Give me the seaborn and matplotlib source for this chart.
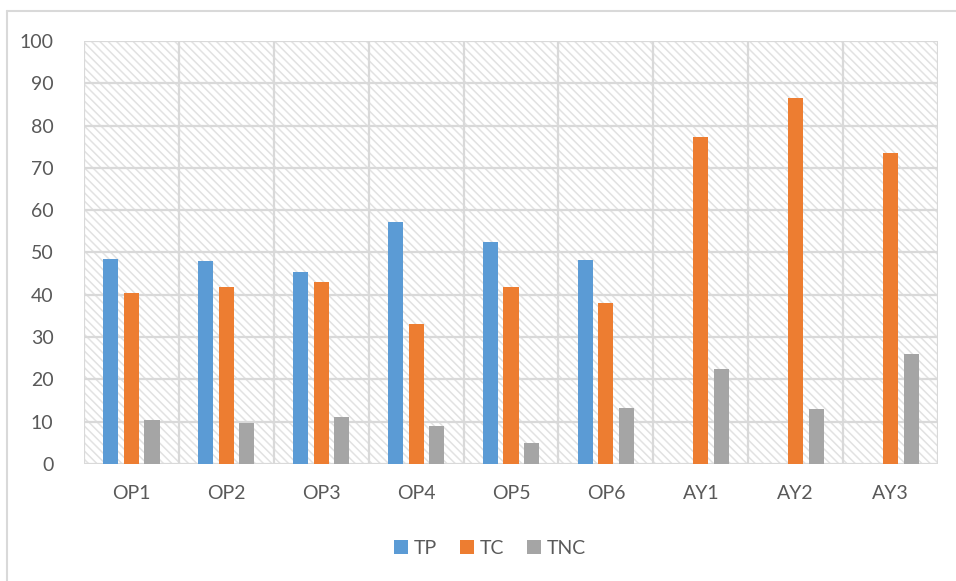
import numpy as np
import pandas as pd
import matplotlib
matplotlib.use("Agg")
import matplotlib.pyplot as plt
from matplotlib.patches import Rectangle
from matplotlib.lines import Line2D
import seaborn as sns

categories = ["OP1", "OP2", "OP3", "OP4", "OP5", "OP6", "AY1", "AY2", "AY3"]
tp = [48.5, 47.9, 45.3, 57.2, 52.5, 48.2, np.nan, np.nan, np.nan]
tc = [40.5, 41.8, 43.1, 33.1, 41.8, 38.0, 77.2, 86.6, 73.6]
tnc = [10.4, 9.8, 11.1, 9.1, 5.0, 13.3, 22.5, 13.1, 26.1]
series = ["TP", "TC", "TNC"]
colors = ["#5b9bd5", "#ed7d31", "#a5a5a5"]
yticks = list(range(0, 101, 10))

df = pd.DataFrame({"cat": categories, "TP": tp, "TC": tc, "TNC": tnc})
long = df.melt(id_vars="cat", value_vars=series, var_name="series", value_name="value")

sns.set_style("white")
plt.rcParams["font.family"] = ["Lato", "DejaVu Sans"]
plt.rcParams["hatch.linewidth"] = 1.1
plt.rcParams["hatch.color"] = "#e2e2e2"

fig = plt.figure(figsize=(9.56, 5.81), dpi=100)
ax = fig.add_axes([84 / 956, 1 - 464 / 581, (938 - 84) / 956, (464 - 41) / 581])

# diagonal pattern fill of the plot area
ax.add_patch(Rectangle((0, 0), 1, 1, transform=ax.transAxes, facecolor="white",
                       edgecolor="#e2e2e2", hatch="\\\\\\\\", linewidth=0, zorder=0))

sns.barplot(data=long, x="cat", y="value", hue="series", hue_order=series,
            palette=colors, width=0.65, gap=0.27, saturation=1, legend=False,
            ax=ax, zorder=3, linewidth=0)

ax.set_ylim(0, 100)
ax.set_xlim(-0.5, len(categories) - 0.5)
ax.set_yticks(yticks)
ax.set_yticklabels([str(v) for v in yticks])

grid_c = "#d9d9d9"
for v in yticks:
    ax.axhline(v, color=grid_c, linewidth=1.6, zorder=1)
for i in range(len(categories) + 1):
    ax.axvline(i - 0.5, color=grid_c, linewidth=1.6, zorder=1)
for s in ax.spines.values():
    s.set_visible(False)

ax.set_xlabel("")
ax.set_ylabel("")
ax.tick_params(axis="both", length=0, labelsize=14, colors="#595959")
ax.tick_params(axis="y", pad=22)
ax.tick_params(axis="x", pad=15)

handles = [Rectangle((0, 0), 1, 1, facecolor=c, edgecolor="none") for c in colors]
fig.legend(handles, series, loc="center", bbox_to_anchor=(490 / 956, 1 - 548 / 581),
           ncol=3, frameon=False, fontsize=14, handlelength=0.7, handleheight=0.7,
           handletextpad=0.3, columnspacing=1.2, labelcolor="#595959")

# chart area outline
fig.add_artist(Line2D([7 / 956, 7 / 956], [0, 1 - 11 / 581], transform=fig.transFigure,
                      color="#d9d9d9", linewidth=1.5))
fig.add_artist(Line2D([7 / 956, 1], [1 - 11 / 581, 1 - 11 / 581], transform=fig.transFigure,
                      color="#d9d9d9", linewidth=1.5))

fig.savefig("out.png", dpi=100)
